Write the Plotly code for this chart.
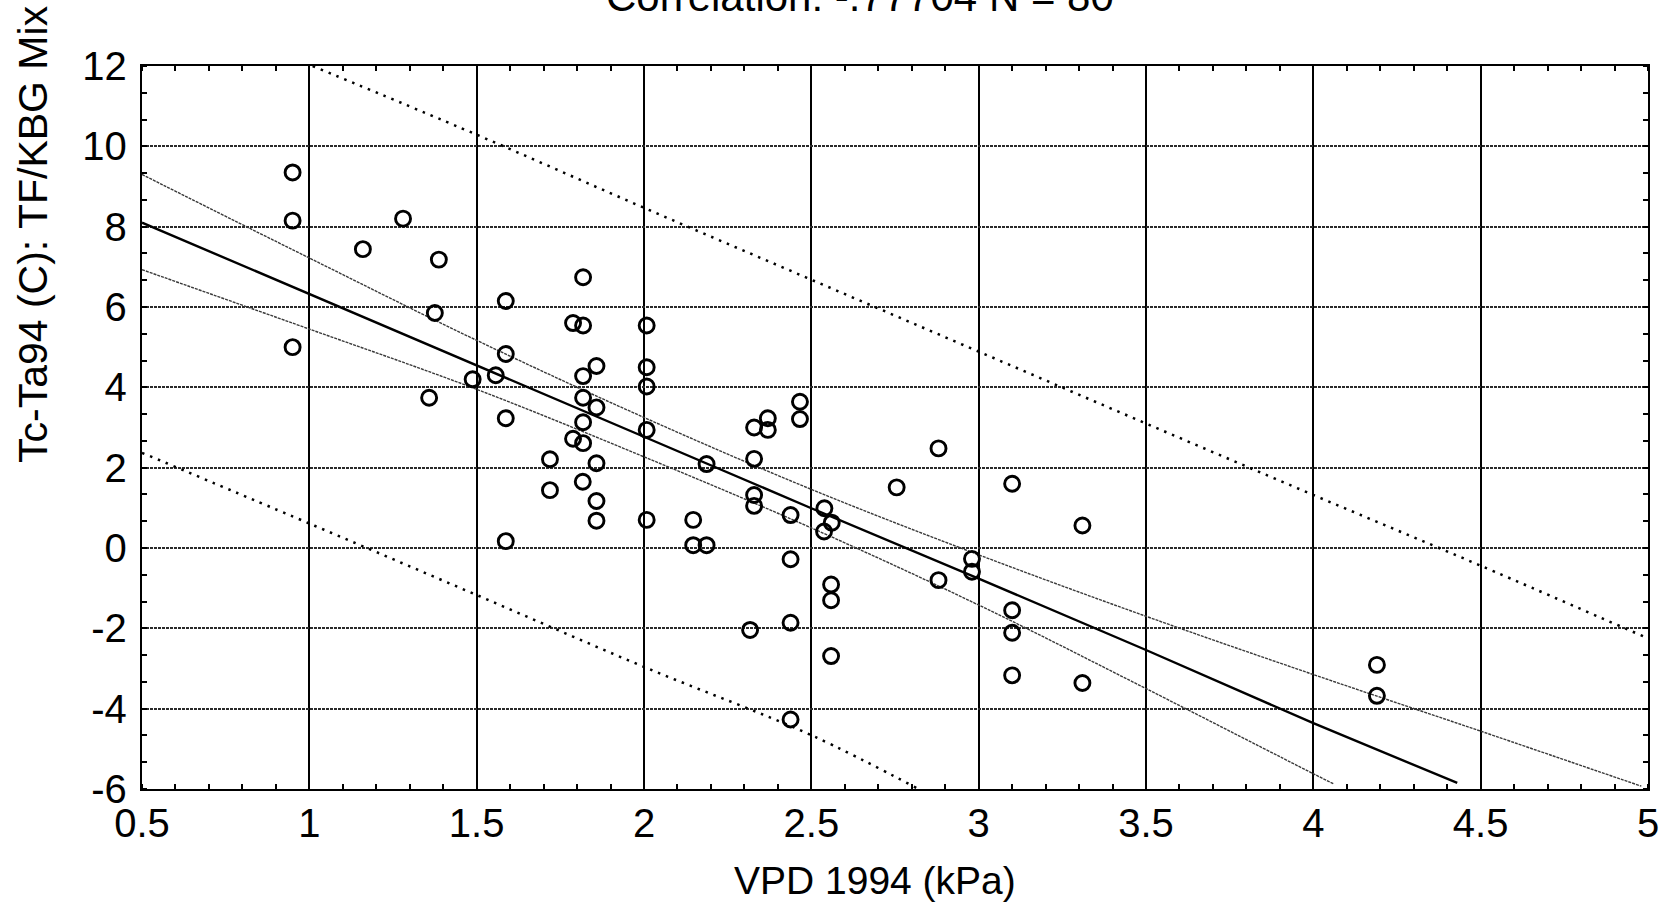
import plotly.graph_objects as go

# Observed points (VPD kPa, Tc-Ta °C)
vpd = [0.95, 0.95, 0.95, 1.16, 1.28, 1.387, 1.375, 1.358, 1.488, 1.557,
       1.587, 1.587, 1.587, 1.587, 1.719, 1.719, 1.818, 1.788, 1.818, 1.858,
       1.818, 1.818, 1.858, 1.818, 1.788, 1.818, 1.858, 1.817, 1.858, 1.858,
       2.008, 2.008, 2.008, 2.008, 2.008, 2.187, 2.147, 2.147, 2.187,
       2.466, 2.466, 2.329, 2.37, 2.37, 2.329, 2.329, 2.329, 2.438, 2.438,
       2.438, 2.438, 2.317, 2.539, 2.561, 2.538, 2.559, 2.559, 2.559,
       2.755, 2.88, 2.88, 2.98, 2.98, 3.1, 3.1, 3.1, 3.1, 3.31, 3.31, 4.19, 4.19]
tcta = [9.35, 8.15, 5.0, 7.44, 8.2, 7.18, 5.85, 3.74, 4.2, 4.30,
        6.15, 4.83, 3.23, 0.17, 2.21, 1.44, 6.74, 5.60, 5.54, 4.53,
        4.28, 3.74, 3.50, 3.13, 2.72, 2.61, 2.11, 1.65, 1.17, 0.68,
        5.54, 4.50, 4.02, 2.94, 0.70, 2.09, 0.70, 0.07, 0.07,
        3.64, 3.21, 3.00, 3.23, 2.94, 2.22, 1.32, 1.05, 0.82, -0.28,
        -1.86, -4.27, -2.04, 0.99, 0.63, 0.41, -0.91, -1.30, -2.69,
        1.51, 2.48, -0.80, -0.27, -0.59, 1.60, -1.55, -2.11, -3.17, 0.56, -3.36, -2.91, -3.68]

# Regression line
fit_x = [0.5, 1, 1.5, 2, 2.5, 3, 3.5, 4, 4.43]
fit_y = [8.1, 6.33, 4.56, 2.77, 0.99, -0.76, -2.54, -4.36, -5.85]

# 95% confidence band
cu_x = [0.5, 1, 1.5, 2, 2.5, 3, 3.5, 4, 4.5, 4.98]
cu_y = [9.3, 7.22, 5.17, 3.25, 1.46, -0.17, -1.7, -3.15, -4.56, -5.93]
cl_x = [0.5, 1, 1.5, 2, 2.5, 3, 3.5, 4, 4.06]
cl_y = [6.93, 5.45, 3.95, 2.27, 0.5, -1.42, -3.5, -5.62, -5.87]

# 95% prediction band
pu_x = [1.01, 1.5, 2, 2.5, 3, 3.5, 4, 4.5, 5]
pu_y = [12, 10.29, 8.47, 6.68, 4.89, 3.1, 1.32, -0.44, -2.25]
pl_x = [0.5, 1, 1.5, 2, 2.5, 2.82]
pl_y = [2.37, 0.61, -1.17, -2.96, -4.66, -6.0]

x_ticks = [0.5, 1, 1.5, 2, 2.5, 3, 3.5, 4, 4.5, 5]
x_ticklabels = ["0.5", "1", "1.5", "2", "2.5", "3", "3.5", "4", "4.5", "5"]
y_ticks = [-6, -4, -2, 0, 2, 4, 6, 8, 10, 12]
y_ticklabels = ["-6", "-4", "-2", "0", "2", "4", "6", "8", "10", "12"]

FONT = "Liberation Sans, Arial, sans-serif"

fig = go.Figure()
conf_style = dict(color="#3a3a3a", width=1.4, dash="3px,1px")
fig.add_trace(go.Scatter(x=cu_x, y=cu_y, mode="lines", line=conf_style, line_shape="spline", hoverinfo="skip"))
fig.add_trace(go.Scatter(x=cl_x, y=cl_y, mode="lines", line=conf_style, line_shape="spline", hoverinfo="skip"))
pred_style = dict(color="black", width=2.5, dash="2.5px,6px")
fig.add_trace(go.Scatter(x=pu_x, y=pu_y, mode="lines", line=pred_style, line_shape="spline", hoverinfo="skip"))
fig.add_trace(go.Scatter(x=pl_x, y=pl_y, mode="lines", line=pred_style, line_shape="spline", hoverinfo="skip"))
fig.add_trace(go.Scatter(x=fit_x, y=fit_y, mode="lines", line=dict(color="black", width=2.4)))
fig.add_trace(go.Scatter(x=vpd, y=tcta, mode="markers",
                         marker=dict(symbol="circle-open", size=15, color="black",
                                     line=dict(width=2.9, color="black"))))

fig.update_layout(
    width=1678, height=903,
    margin=dict(l=142, r=30, t=66, b=114),
    paper_bgcolor="white", plot_bgcolor="white",
    showlegend=False,
    font=dict(family=FONT, size=40, color="black"),
)
fig.add_annotation(text="Correlation: -.77704 N = 80", xref="paper", yref="paper",
                   x=(860 - 142) / 1506, y=1 + (66 + 3) / 723, xanchor="center", yanchor="middle",
                   showarrow=False, font=dict(family=FONT, size=42, color="black"))
fig.add_annotation(text="VPD 1994 (kPa)", xref="paper", yref="paper",
                   x=(875 - 142) / 1506, y=-(880 - 789) / 723, xanchor="center", yanchor="middle",
                   showarrow=False, font=dict(family=FONT, size=39, color="black"))
fig.add_annotation(text="Tc-Ta94 (C): TF/KBG Mix", xref="paper", yref="paper",
                   x=-(142 - 33) / 1506, y=(789 - 234) / 723, xanchor="center", yanchor="middle",
                   textangle=-90, showarrow=False, font=dict(family=FONT, size=41, color="black"))

fig.update_xaxes(range=[0.5, 5], tickvals=x_ticks, ticktext=x_ticklabels,
                 showgrid=True, gridcolor="black", gridwidth=1.8,
                 showline=True, linecolor="black", linewidth=2.4, mirror="allticks",
                 ticks="", zeroline=False, ticklabelstandoff=-2,
                 minor=dict(dtick=0.1, ticks="inside", ticklen=5, tickwidth=1.5, tickcolor="black", showgrid=False))
fig.update_yaxes(range=[-6, 12], tickvals=y_ticks, ticktext=y_ticklabels,
                 showgrid=True, gridcolor="#2a2a2a", gridwidth=2, griddash="3px,1px",
                 showline=True, linecolor="black", linewidth=2.4, mirror="allticks",
                 ticks="", zeroline=False, ticklabelstandoff=5,
                 minor=dict(tick0=0, dtick=2/3, ticks="inside", ticklen=5, tickwidth=1.5, tickcolor="black", showgrid=False))

fig.write_html("out.html")
